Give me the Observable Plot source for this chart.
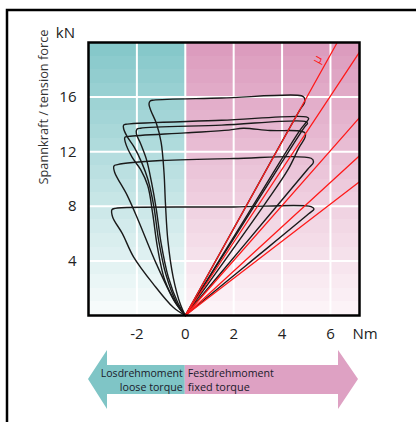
<!DOCTYPE html>
<html><head><meta charset="utf-8">
<script src="https://cdn.jsdelivr.net/npm/d3@7"></script>
<script src="https://cdn.jsdelivr.net/npm/@observablehq/plot@0.6"></script>
<style>
html,body{margin:0;padding:0;background:#fff;}
svg{display:block;}
</style></head><body><div id="chart"></div>
<script>
// axis ticks and domains
const xTicks = [-2, 0, 2, 4, 6];
const yTicks = [4, 8, 12, 16];
const xDomain = [-4, 7.2];
const yDomain = [0, 20];

// red μ lines: end points (start at origin)
const muEndX = [6.28, 7.2, 7.2, 7.2, 7.2];
const muEndY = [20, 19.3, 14.5, 11.7, 9.8];

// measured tightening / loosening loops [torque Nm, tension kN]
const loop16 = [[0,0],[2.4,7.65],[4.75,15.1],[4.93,15.6],[4.92,15.95],[4.8,16.1],[1.5,15.93],[-1.3,15.78],[-1.45,15.72],[-1.5,15.5],[-1.42,15.0],[-1.2,14.1],[-1.0,12.7],[-0.88,10.5],[-0.82,8.2],[-0.72,5.5],[-0.5,2.8],[-0.2,0.8],[0,0]];
const loop145 = [[0,0],[2.4,6.9],[4.75,13.6],[4.97,14.1],[5.1,14.42],[5.0,14.55],[1.5,14.3],[-2.4,14.02],[-2.55,13.95],[-2.55,13.7],[-2.4,13.1],[-2.1,12.3],[-1.8,11.2],[-1.55,10],[-1.3,8],[-1.1,5.5],[-0.8,3],[-0.35,0.9],[0,0]];
const loop142 = [[0,0],[2.4,6.75],[4.7,13.2],[4.95,13.85],[5.05,14.08],[4.95,14.22],[1.5,13.95],[-1.85,13.72],[-2.0,13.65],[-2.02,13.3],[-1.85,12.6],[-1.6,11.4],[-1.4,9.8],[-1.2,7.8],[-1.0,5.3],[-0.7,2.8],[-0.3,0.9],[0,0]];
const loop134 = [[0,0],[3.3,8.2],[4.25,10.7],[4.7,12.3],[4.95,13.05],[4.96,13.35],[4.8,13.5],[3.5,13.55],[2.4,13.72],[1.8,13.58],[0,13.38],[-2.35,13.12],[-2.5,13.05],[-2.48,12.7],[-2.2,11.6],[-1.85,10.7],[-1.55,9.5],[-1.35,7.5],[-1.15,5],[-0.85,2.6],[-0.35,0.8],[0,0]];
const loop115 = [[0,0],[2.5,5.3],[5.05,10.7],[5.3,11.25],[5.2,11.52],[2,11.5],[-1,11.35],[-2.8,11.05],[-2.95,10.95],[-2.92,10.5],[-2.4,8.8],[-1.95,7.0],[-1.2,3.8],[-0.4,0.9],[0,0]];
const loop80 = [[0,0],[2.5,3.65],[5.1,7.45],[5.32,7.8],[5.2,7.98],[2,7.95],[-2.9,7.85],[-3.03,7.75],[-3.0,7.2],[-2.6,6.0],[-2.14,4.3],[-1.32,2.3],[-0.5,0.6],[0,0]];
const loops = [loop16, loop145, loop142, loop134, loop115, loop80];

// arrow captions
const looseLines = ["Losdrehmoment", "loose torque"];
const fixedLines = ["Festdrehmoment", "fixed torque"];

// background colours (top / bottom) for each side
const tealTop = "#86c8ca", tealBottom = "#f6fbfb";
const pinkTop = "#dc9cbe", pinkBottom = "#fcf3f7";

// background bands
const bands = [];
for (let k = 0; k < 20; k++) {
  const t = k / 19;
  bands.push({x1: xDomain[0], x2: 0, y1: k, y2: k + 1, c: d3.interpolateRgb(tealBottom, tealTop)(t)});
  bands.push({x1: 0, x2: xDomain[1], y1: k, y2: k + 1, c: d3.interpolateRgb(pinkBottom, pinkTop)(t)});
}
const loopRows = loops.flatMap((pts, i) => pts.map(([x, y]) => ({x, y, id: i})));
const muRows = muEndX.flatMap((x, i) => [{x: 0, y: 0, id: i}, {x, y: muEndY[i], id: i}]);

const font = "'Open Sans', 'DejaVu Sans', sans-serif";

const plot = Plot.plot({
  width: 416, height: 422,
  marginLeft: 88, marginRight: 57, marginTop: 42, marginBottom: 107,
  style: {fontFamily: font, fontSize: "15px", color: "#222", background: "white"},
  x: {domain: xDomain},
  y: {domain: yDomain},
  color: {type: "identity"},
  marks: [
    Plot.rect(bands, {x1: "x1", x2: "x2", y1: "y1", y2: "y2", fill: "c", shapeRendering: "crispEdges"}),
    Plot.ruleX(xTicks, {stroke: "white", strokeWidth: 2}),
    Plot.ruleY(yTicks, {stroke: "white", strokeWidth: 2}),
    Plot.line(loopRows, {x: "x", y: "y", z: "id", stroke: "#1a1a1a", strokeWidth: 1.4, curve: "catmull-rom"}),
    Plot.line(muRows, {x: "x", y: "y", z: "id", stroke: "#ff1a1a", strokeWidth: 1.3}),
    Plot.text(["μ"], {x: 5.46, y: 18.77, rotate: -61, fill: "#ff1a1a", fontSize: 12}),
    Plot.axisX(xTicks, {tickSize: 0, tickPadding: 13, tickFormat: d => String(d), fontSize: 15, label: null}),
    Plot.axisY(yTicks, {tickSize: 0, tickPadding: 12, tickFormat: d => String(d), fontSize: 15, label: null}),
    Plot.frame({stroke: "black", strokeWidth: 2.5})
  ]
});

const svg = d3.select(plot);
const xs = plot.scale("x");
const x0 = xs.apply(0), xl = xs.range[0], xr = xs.range[1];

// outer border
svg.append("rect").attr("x", 7).attr("y", 10).attr("width", 430).attr("height", 430)
  .attr("fill", "none").attr("stroke", "black").attr("stroke-width", 2.5);

// units and axis title
svg.append("text").attr("x", 75).attr("y", 38).attr("text-anchor", "end")
  .attr("font-size", 15).attr("fill", "#222").text("kN");
svg.append("text").attr("x", 365).attr("y", 339).attr("font-size", 15).attr("fill", "#222").text("Nm");
svg.append("text").attr("transform", "translate(48,107) rotate(-90)").attr("text-anchor", "middle")
  .attr("font-size", 13.5).attr("fill", "#333")
  .attr("textLength", 155).attr("lengthAdjust", "spacingAndGlyphs").text("Spannkraft / tension force");

// direction arrows
const hb = 19, ty = 379, bt = 365, bb = 394, ht = 350, hbm = 409;
svg.append("polygon").attr("fill", "#7fc5c6").attr("points",
  [[xl, ty], [xl + hb, ht], [xl + hb, bt], [x0, bt], [x0, bb], [xl + hb, bb], [xl + hb, hbm]].map(p => p.join(",")).join(" "));
svg.append("polygon").attr("fill", "#dea1c3").attr("points",
  [[x0, bt], [xr - 1 - 20, bt], [xr - 1 - 20, ht], [xr - 1, ty], [xr - 1 - 20, hbm], [xr - 1 - 20, bb], [x0, bb]].map(p => p.join(",")).join(" "));

function caption(lines, x, anchor, widths) {
  lines.forEach((s, i) => {
    svg.append("text").attr("x", x).attr("y", 376.5 + i * 14.5).attr("text-anchor", anchor)
      .attr("font-size", 10.5).attr("fill", "#1a1a2a")
      .attr("textLength", widths[i]).attr("lengthAdjust", "spacingAndGlyphs").text(s);
  });
}
caption(looseLines, x0 - 2, "end", [82, 63]);
caption(fixedLines, x0 + 3, "start", [86, 62]);

document.getElementById("chart").appendChild(plot);
</script>
</body></html>
